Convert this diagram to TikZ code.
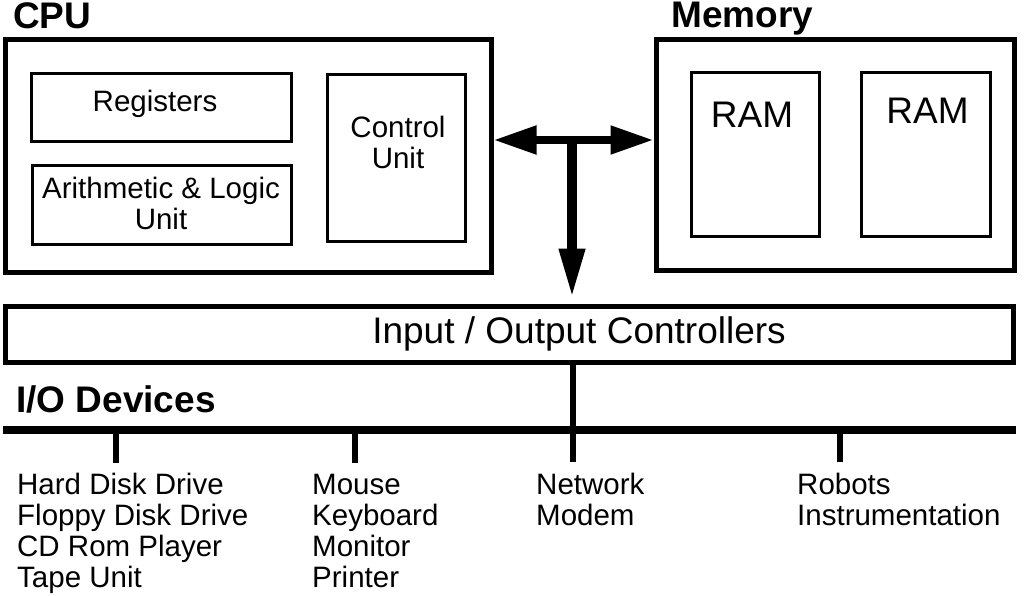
\documentclass[tikz,border=0pt]{standalone}
\usepackage{fontspec}
\setmainfont{Liberation Sans}
\usetikzlibrary{arrows.meta}
\begin{document}
\begin{tikzpicture}[x=1pt,y=-1pt,
  thickbox/.style={draw, line width=5pt, inner sep=0pt},
  thinbox/.style={draw, line width=3pt, inner sep=0pt},
  small/.style={font=\fontsize{29.5}{31}\selectfont, inner sep=0pt},
  big/.style={font=\fontsize{37}{40}\selectfont, inner sep=0pt},
  title/.style={font=\bfseries\fontsize{37}{40}\selectfont, inner sep=0pt},
  bus/.style={line width=8pt},
  drop/.style={line width=6pt}]
\useasboundingbox[fill=white] (0,0) rectangle (1024,596);
% CPU
\node[thickbox, minimum width=486pt, minimum height=232pt] (cpu) at (248,156) {};
\node[thinbox, minimum width=260pt, minimum height=68pt] (reg) at (161,108) {};
\node[thinbox, minimum width=259pt, minimum height=78pt] (alu) at (161.5,205) {};
\node[thinbox, minimum width=138pt, minimum height=166pt] (cu) at (396,158) {};
\node[title, anchor=base west] (cpulbl) at (13,29) {CPU};
\node[small, anchor=base] (regt) at (155,112) {Registers};
\node[small, anchor=base, align=center] (alut) at (161,229) {Arithmetic \& Logic\\Unit};
\node[small, anchor=base, align=center] (cut) at (398,168) {Control\\Unit};
% Memory
\node[thickbox, minimum width=358pt, minimum height=230pt] (mem) at (835,155) {};
\node[thinbox, minimum width=128pt, minimum height=163pt] (ram1) at (755,154.5) {};
\node[thinbox, minimum width=129pt, minimum height=163pt] (ram2) at (925.5,154.5) {};
\node[title, anchor=base west] (memlbl) at (671,28) {Memory};
\node[big, anchor=base] (ram1t) at (752,128) {RAM};
\node[big, anchor=base] (ram2t) at (927.5,124) {RAM};
% arrows
\coordinate (hub) at (572,140);
\coordinate (hubtop) at (572,137);
\draw[line width=8pt, {Triangle[length=43pt,width=27pt]}-{Triangle[length=43pt,width=27pt]}]
  (cpu.east |- hub) -- (mem.west |- hub);
% IO controllers
\node[thickbox, minimum width=1008pt, minimum height=56pt] (io) at (509,334) {};
\node[big, anchor=base] (iot) at (579,343) {Input / Output Controllers};
\draw[line width=10pt, -{Triangle[length=50pt,width=24pt]}, shorten >=5pt]
  (hubtop) -- (hubtop |- io.north);
% bus
\coordinate (busL) at (3,430);
\coordinate (busR) at (1016,430);
\coordinate (busC) at (573,430);
\draw[bus] (busL) -- (busR);
\draw[drop] (busC |- io.south) -- (busC);
\node[title, anchor=base west] (iolbl) at (16,412) {I/O Devices};
\coordinate (d1) at (116,463);
\coordinate (d2) at (355,463);
\coordinate (d3) at (573,462);
\coordinate (d4) at (840,462);
\draw[drop] (d1 |- busL) -- (d1);
\draw[drop] (d2 |- busL) -- (d2);
\draw[drop] (d3 |- busL) -- (d3);
\draw[drop] (d4 |- busL) -- (d4);
\node[small, anchor=base west, align=left] (c1) at (17,587) {Hard Disk Drive\\Floppy Disk Drive\\CD Rom Player\\Tape Unit};
\node[small, anchor=base west, align=left] (c2) at (312,587) {Mouse\\Keyboard\\Monitor\\Printer};
\node[small, anchor=base west, align=left] (c3) at (536,525) {Network\\Modem};
\node[small, anchor=base west, align=left] (c4) at (797,525) {Robots\\Instrumentation};
\end{tikzpicture}
\end{document}
